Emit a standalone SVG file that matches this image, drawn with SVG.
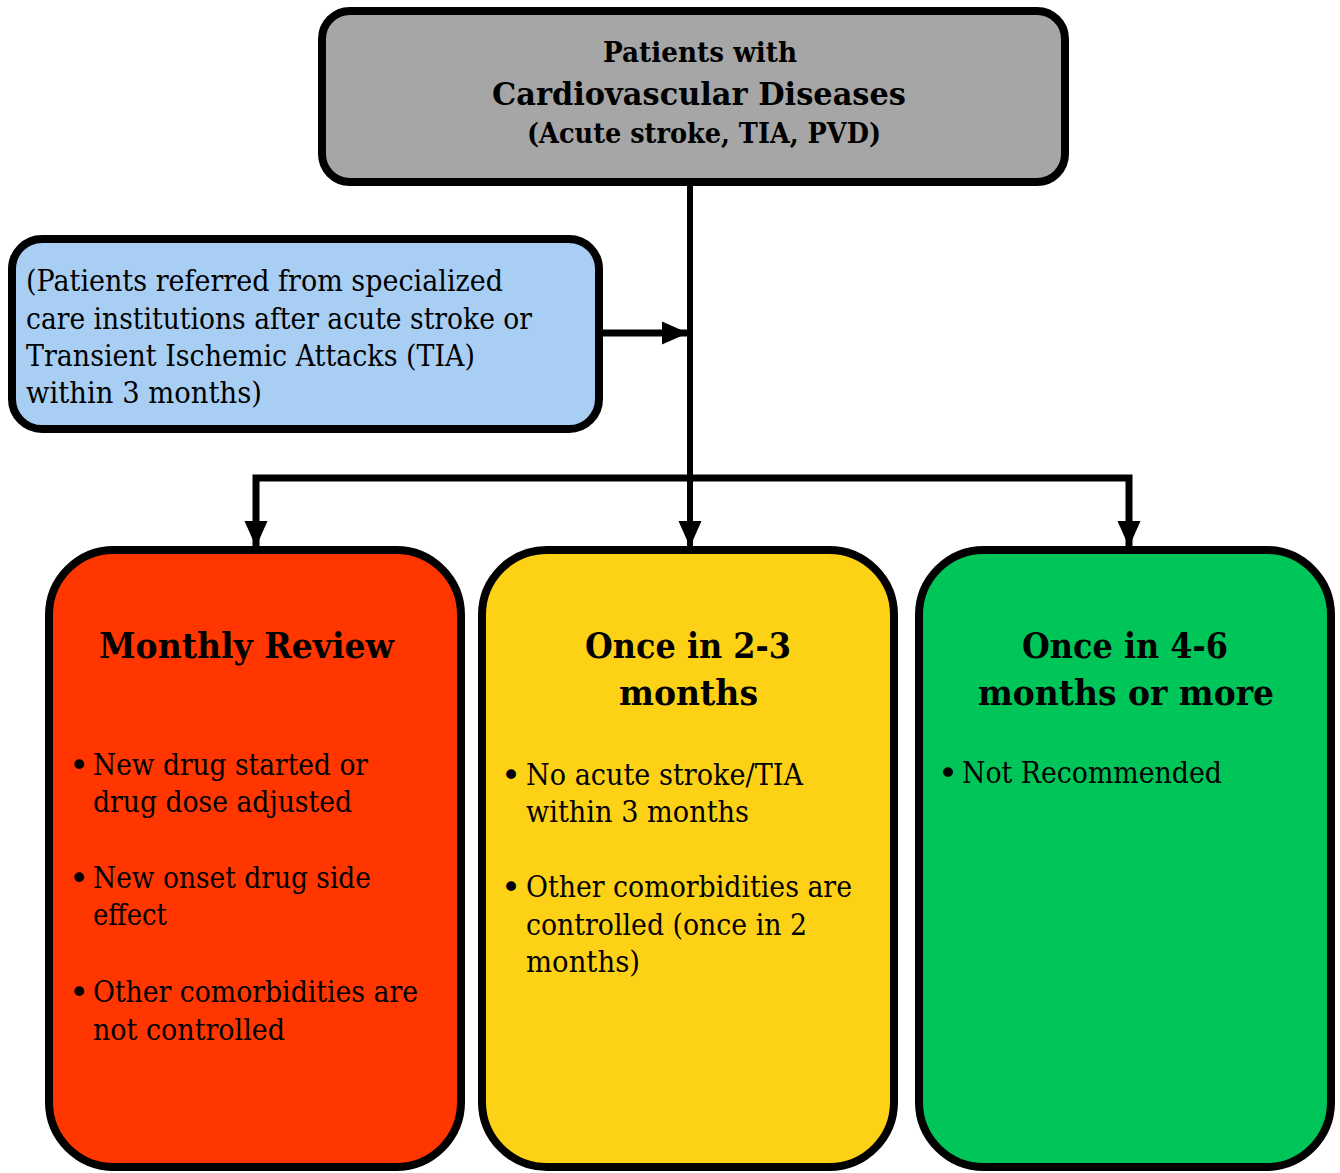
<svg xmlns="http://www.w3.org/2000/svg" width="1340" height="1173" viewBox="0 0 1340 1173">
<style>
.box{stroke:#000;stroke-width:8}
.t{font-family:"DejaVu Serif","Liberation Serif",serif;fill:#000}
.b{font-weight:bold}
.body{font-size:29px}
.bul{font-family:"DejaVu Sans","Liberation Sans",sans-serif;font-size:34px;fill:#000}
.conn{fill:none;stroke:#000;stroke-width:6;stroke-linejoin:miter;stroke-linecap:butt}
</style>
<defs>
<marker id="ah" markerUnits="userSpaceOnUse" markerWidth="26" markerHeight="26" viewBox="0 0 26 26" refX="25" refY="13" orient="auto">
<path d="M0,1.5 L26,13 L0,24.5 z" fill="#000"/>
</marker>
</defs>
<rect width="1340" height="1173" fill="#fff"/>
<g id="connectors">
<path class="conn" d="M690,186 V546" marker-end="url(#ah)"/>
<path class="conn" d="M690,478 H256 V546" style="stroke-width:7" marker-end="url(#ah)"/>
<path class="conn" d="M690,478 H1129 V546" style="stroke-width:7" marker-end="url(#ah)"/>
<path class="conn" d="M601,333 H687" style="stroke-width:7" marker-end="url(#ah)"/>
</g>
<g id="top">
<rect class="box" x="322" y="11" width="743" height="171" rx="28" fill="#A6A6A6"/>
<text class="t b" x="603" y="62" font-size="27" textLength="194" lengthAdjust="spacingAndGlyphs">Patients with</text>
<text class="t b" x="492" y="105" font-size="31" textLength="414" lengthAdjust="spacingAndGlyphs">Cardiovascular Diseases</text>
<text class="t b" x="527" y="143" font-size="27" textLength="354" lengthAdjust="spacingAndGlyphs">(Acute stroke, TIA, PVD)</text>
</g>
<g id="referral">
<rect class="box" x="12" y="239" width="587" height="190" rx="30" fill="#A8CEF4"/>
<text class="t body" x="26" y="291" textLength="477" lengthAdjust="spacingAndGlyphs">(Patients referred from specialized</text>
<text class="t body" x="26" y="329" textLength="506" lengthAdjust="spacingAndGlyphs">care institutions after acute stroke or</text>
<text class="t body" x="26" y="366" textLength="449" lengthAdjust="spacingAndGlyphs">Transient Ischemic Attacks (TIA)</text>
<text class="t body" x="26" y="403" textLength="236" lengthAdjust="spacingAndGlyphs">within 3 months)</text>
</g>
<g id="monthly">
<rect class="box" x="49" y="550" width="412" height="617" rx="65" fill="#FF3600"/>
<text class="t b" x="99" y="658" font-size="36" textLength="295" lengthAdjust="spacingAndGlyphs">Monthly Review</text>
<text class="bul" x="69" y="777">•</text>
<text class="t body" x="93" y="775" textLength="275" lengthAdjust="spacingAndGlyphs">New drug started or</text>
<text class="t body" x="93" y="812" textLength="259" lengthAdjust="spacingAndGlyphs">drug dose adjusted</text>
<text class="bul" x="69" y="890">•</text>
<text class="t body" x="93" y="888" textLength="278" lengthAdjust="spacingAndGlyphs">New onset drug side</text>
<text class="t body" x="93" y="925" textLength="74" lengthAdjust="spacingAndGlyphs">effect</text>
<text class="bul" x="69" y="1004">•</text>
<text class="t body" x="93" y="1002" textLength="325" lengthAdjust="spacingAndGlyphs">Other comorbidities are</text>
<text class="t body" x="93" y="1040" textLength="192" lengthAdjust="spacingAndGlyphs">not controlled</text>
</g>
<g id="bimonthly">
<rect class="box" x="482" y="550" width="412" height="617" rx="65" fill="#FDD116"/>
<text class="t b" x="585" y="658" font-size="36" textLength="206" lengthAdjust="spacingAndGlyphs">Once in 2-3</text>
<text class="t b" x="619" y="705" font-size="36" textLength="139" lengthAdjust="spacingAndGlyphs">months</text>
<text class="bul" x="501" y="787">•</text>
<text class="t body" x="526" y="785" textLength="277" lengthAdjust="spacingAndGlyphs">No acute stroke/TIA</text>
<text class="t body" x="526" y="822" textLength="223" lengthAdjust="spacingAndGlyphs">within 3 months</text>
<text class="bul" x="501" y="899">•</text>
<text class="t body" x="526" y="897" textLength="326" lengthAdjust="spacingAndGlyphs">Other comorbidities are</text>
<text class="t body" x="526" y="935" textLength="281" lengthAdjust="spacingAndGlyphs">controlled (once in 2</text>
<text class="t body" x="526" y="972" textLength="114" lengthAdjust="spacingAndGlyphs">months)</text>
</g>
<g id="semiannual">
<rect class="box" x="919" y="550" width="412" height="617" rx="65" fill="#00C65A"/>
<text class="t b" x="1022" y="658" font-size="36" textLength="206" lengthAdjust="spacingAndGlyphs">Once in 4-6</text>
<text class="t b" x="978" y="705" font-size="36" textLength="296" lengthAdjust="spacingAndGlyphs">months or more</text>
<text class="bul" x="938" y="785">•</text>
<text class="t body" x="962" y="783" textLength="260" lengthAdjust="spacingAndGlyphs">Not Recommended</text>
</g>
</svg>
